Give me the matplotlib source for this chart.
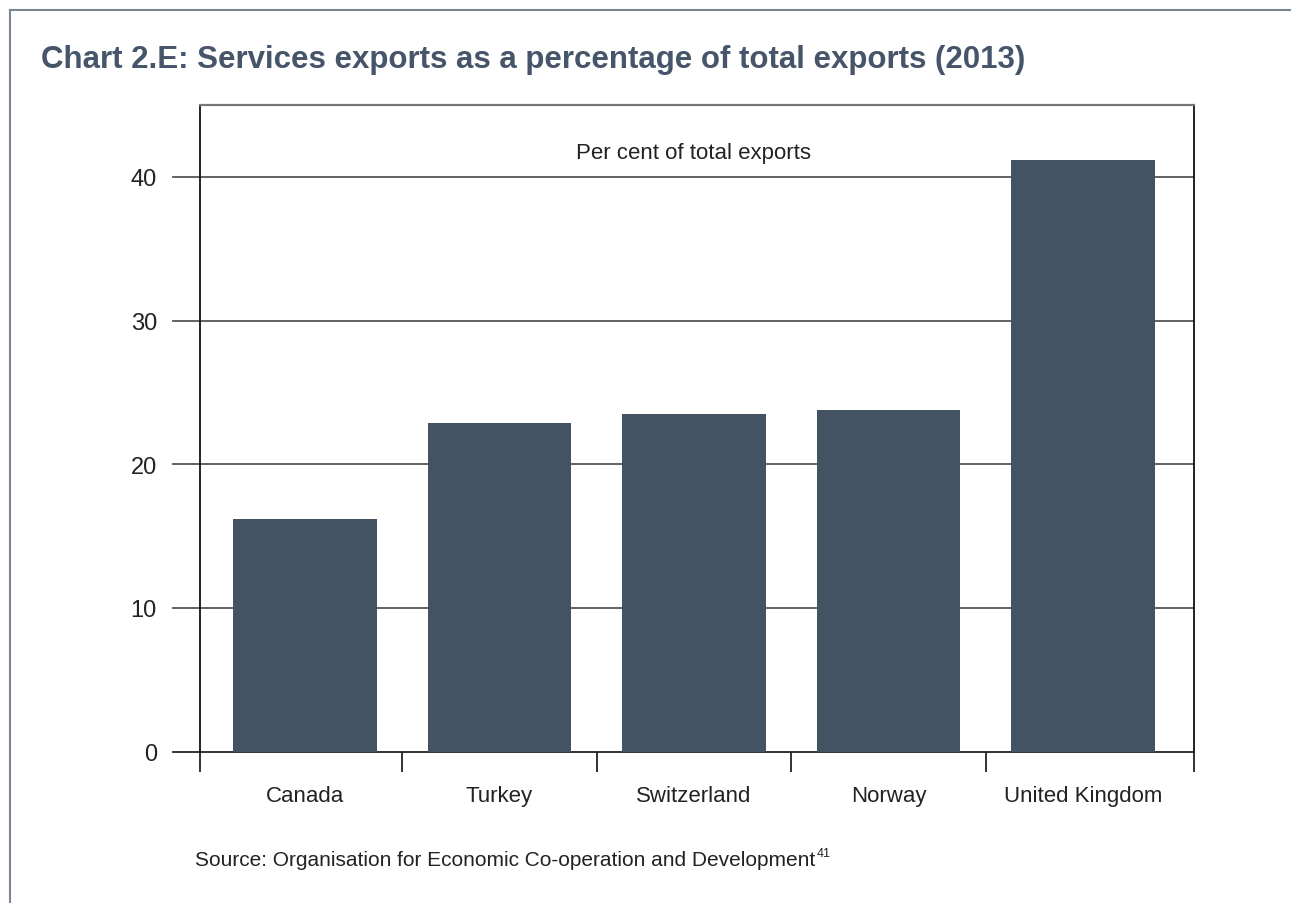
import matplotlib.pyplot as plt
from matplotlib.lines import Line2D

plt.rcParams['font.family'] = ['Liberation Sans', 'DejaVu Sans']

countries = ['Canada', 'Turkey', 'Switzerland', 'Norway', 'United Kingdom']
services_share = [16.2, 22.9, 23.5, 23.8, 41.2]
yticks = [0, 10, 20, 30, 40]

title = 'Chart 2.E: Services exports as a percentage of total exports (2013)'
unit_label = 'Per cent of total exports'
source = 'Source: Organisation for Economic Co-operation and Development'
footnote = '41'

bar_color = '#445364'
title_color = '#46556a'
grid_color = '#555555'
text_color = '#222222'

W, H = 1291, 904
fig = plt.figure(figsize=(W / 100, H / 100), dpi=100)

# frame round the chart (only left and top edges are inside the picture)
frame_color = '#7a8696'
fig.add_artist(Line2D([10 / W, 10 / W], [0, 1 - 11 / H], color=frame_color, lw=1.5))
fig.add_artist(Line2D([10 / W, 1], [1 - 11 / H, 1 - 11 / H], color=frame_color, lw=1.5))

fig.text(41 / W, 1 - 60 / H, title, fontsize=22.5, fontweight='bold',
         color=title_color, va='center', ha='left')

ax_left, ax_right, ax_top, ax_bottom = 200, 1194, 106, 752.7
ax = fig.add_axes([ax_left / W, 1 - ax_bottom / H,
                   (ax_right - ax_left) / W, (ax_bottom - ax_top) / H])

x = list(range(len(countries)))
ax.bar(x, services_share, width=0.74, color=bar_color, zorder=3)

ax.set_xlim(-0.54, 4.571)
ax.set_ylim(0, 45)

# gridlines (and zero line) reach out past the left spine as tick marks
for y in yticks:
    ax.axhline(y, xmin=-27 / (ax_right - ax_left), xmax=1,
               color=text_color if y == 0 else grid_color,
               lw=1.3, zorder=1, clip_on=False)

ax.set_yticks(yticks)
ax.tick_params(axis='y', length=0, pad=31, labelsize=17, labelcolor=text_color)

ax.set_xticks(x)
ax.set_xticklabels(countries)
ax.tick_params(axis='x', which='major', length=0, pad=24, labelsize=16,
               labelcolor=text_color)
ax.set_xticks([-0.54, 0.5, 1.5, 2.5, 3.5, 4.571], minor=True)
ax.tick_params(axis='x', which='minor', length=14.4, width=1.3,
               color=text_color, direction='out')

for side in ['left', 'right']:
    ax.spines[side].set_color('#111111')
    ax.spines[side].set_linewidth(1.3)
ax.spines['top'].set_color('#777777')
ax.spines['top'].set_linewidth(1.6)
ax.spines['bottom'].set_visible(False)

ax.text(2.0, 41.7, unit_label, fontsize=16, color=text_color,
        ha='center', va='center', zorder=4)

src = fig.text(195 / W, 1 - 861 / H, source, fontsize=15,
               color=text_color, va='center', ha='left')
fig.canvas.draw()
bb = src.get_window_extent()
fig.text(bb.x1 / W + 0.0015, 1 - 854 / H, footnote, fontsize=9,
         color=text_color, va='center', ha='left')

fig.savefig('out.png', dpi=100)
